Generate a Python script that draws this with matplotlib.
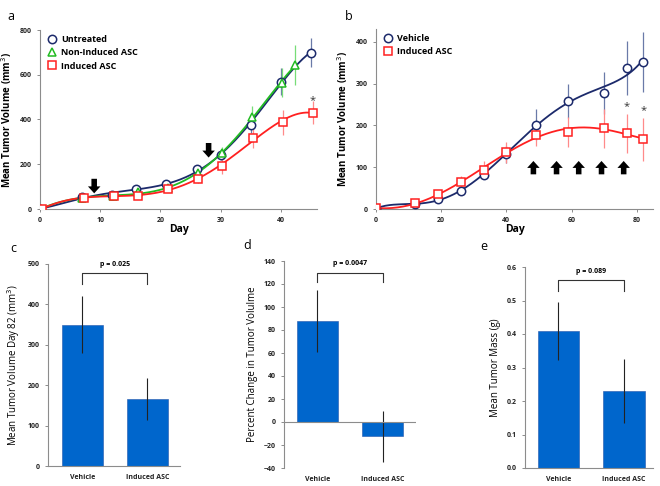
import numpy as np
import matplotlib
matplotlib.use("Agg")
from matplotlib import pyplot as plt, rcParams as rcP
from matplotlib.patches import FancyArrowPatch, ArrowStyle

rcP["font.family"] = ["Open Sans", "DejaVu Sans"]
rcP["axes.linewidth"] = 0.8

# ---- данные панели a ----
a_days_unt = [0, 7, 12, 16, 21, 26, 30, 35, 40, 45]
a_unt = [0, 55, 63, 88, 113, 177, 240, 376, 569, 699]
a_unt_err = [0, 6, 8, 10, 12, 15, 20, 35, 60, 65]

a_days_non = [0, 7, 12.2, 16.2, 21.2, 26.2, 30.2, 35.2, 40.2, 42.3]
a_non = [0, 50, 58, 75, 92, 160, 252, 410, 565, 644]
a_non_err = [0, 5, 8, 8, 10, 15, 25, 50, 65, 88]

a_days_ind = [0.3, 7.3, 12.3, 16.3, 21.3, 26.3, 30.3, 35.3, 40.3, 45.3]
a_ind = [0, 49, 60, 60, 88, 136, 192, 319, 388, 431]
a_ind_err = [0, 5, 6, 8, 10, 18, 35, 48, 56, 53]

a_arrows = [9, 28]

# ---- данные панели b ----
b_days = [0, 12, 19, 26, 33, 40, 49, 59, 70, 77, 82]
b_veh = [1, 12, 23, 43, 82, 131, 202, 259, 277, 338, 352]
b_veh_err = [0, 5, 6, 8, 10, 20, 37, 40, 50, 65, 71]
b_ind = [2, 14, 35, 64, 94, 136, 178, 184, 193, 181, 167]
b_ind_err = [0, 5, 8, 15, 22, 25, 28, 36, 47, 47, 52]
b_arrows = [48.3, 55.4, 62.2, 69.2, 76]

# ---- данные панелей c, d, e ----
groups = ["Vehicle", "Induced ASC"]
c_vals = [350, 165]
c_err = [71, 52]
d_vals = [88, -12.5]
d_err = [27, 22]
e_vals = [0.41, 0.23]
e_err = [0.087, 0.096]

NAVY = "#1c2a6b"
GREEN = "#22bb22"
RED = "#ff2020"
NAVY_E = "#6a7aa8"
GREEN_E = "#77dd77"
RED_E = "#ff8a8a"
BAR = "#0066cc"
SPINE = "#8c8c8c"

fig = plt.figure(figsize=(6.6, 4.86), dpi=100)


def px(l, t, r, b):
    # перевод пикселей в доли фигуры
    return [l / 660, 1 - b / 486, (r - l) / 660, (b - t) / 486]


def style(ax):
    for s in ["top", "right"]:
        ax.spines[s].set_visible(False)
    for s in ["left", "bottom"]:
        ax.spines[s].set_color(SPINE)
    ax.tick_params(colors=SPINE, length=2.5, width=0.7, labelsize=5)
    for lab in ax.get_xticklabels() + ax.get_yticklabels():
        lab.set_fontweight("bold")
        lab.set_color("#222222")


def trend(ax, x, y, deg, color):
    p = np.polyfit(x, y, deg)
    xx = np.linspace(min(x), max(x), 200)
    ax.plot(xx, np.polyval(p, xx), color=color, lw=1.3, zorder=2)


def series(ax, x, y, err, marker, color, ecolor, label, deg):
    ax.errorbar(x, y, yerr=err, fmt="none", ecolor=ecolor, elinewidth=0.9, zorder=1)
    trend(ax, x, y, deg, color)
    ax.plot(x, y, ls="none", marker=marker, ms=6, mfc="white", mec=color, mew=1.1,
            label=label, zorder=3)


def arrow(ax, x, y0, y1):
    st = ArrowStyle.Simple(head_length=5, head_width=9, tail_width=4)
    ax.add_patch(FancyArrowPatch((x, y0), (x, y1), arrowstyle=st, mutation_scale=1,
                                 color="black", lw=0, shrinkA=0, shrinkB=0, zorder=4))


# ---- панель a ----
ax = fig.add_axes(px(40, 30, 317, 209))
series(ax, a_days_unt, a_unt, a_unt_err, "o", NAVY, NAVY_E, "Untreated", 5)
series(ax, a_days_non, a_non, a_non_err, "^", GREEN, GREEN_E, "Non-Induced ASC", 5)
series(ax, a_days_ind, a_ind, a_ind_err, "s", RED, RED_E, "Induced ASC", 5)
for d in a_arrows:
    top = 135 if d < 20 else 295
    arrow(ax, d, top, top - 65)
ax.text(45.3, 485, "*", ha="center", va="center", fontsize=8, color="#333333")
ax.set_xlim(0, 46)
ax.set_ylim(0, 800)
ax.set_xticks([0, 10, 20, 30, 40])
ax.set_yticks([0, 200, 400, 600, 800])
ax.set_xlabel("Day", fontsize=7.5, fontweight="bold", labelpad=0)
ax.set_ylabel("Mean Tumor Volume (mm$^3$)", fontsize=7, fontweight="bold", labelpad=4)
style(ax)
ax.legend(loc="upper left", frameon=False, handletextpad=0.2, labelspacing=0.45,
          borderaxespad=0.2, handlelength=1.5, prop=dict(weight="bold", size=6.5))
fig.text(7 / 660, 1 - 17 / 486, "a", fontsize=9, va="center")

# ---- панель b ----
ax = fig.add_axes(px(376, 29, 653, 209))
series(ax, b_days, b_veh, b_veh_err, "o", NAVY, NAVY_E, "Vehicle", 5)
series(ax, b_days, b_ind, b_ind_err, "s", RED, RED_E, "Induced ASC", 5)
for d in b_arrows:
    arrow(ax, d, 83, 115)
ax.text(77, 245, "*", ha="center", va="center", fontsize=8, color="#333333")
ax.text(82, 235, "*", ha="center", va="center", fontsize=8, color="#333333")
ax.set_xlim(0, 85)
ax.set_ylim(0, 431)
ax.set_xticks([0, 20, 40, 60, 80])
ax.set_yticks([0, 100, 200, 300, 400])
ax.set_xlabel("Day", fontsize=7.5, fontweight="bold", labelpad=0)
ax.set_ylabel("Mean Tumor Volume (mm$^3$)", fontsize=7, fontweight="bold", labelpad=4)
style(ax)
ax.legend(loc="upper left", frameon=False, handletextpad=0.2, labelspacing=0.45,
          borderaxespad=0.2, handlelength=1.5, prop=dict(weight="bold", size=6.5))
fig.text(345 / 660, 1 - 17 / 486, "b", fontsize=9, va="center")


# ---- столбчатые панели ----
def bars(rect, vals, err, ylim, yticks, ylabel, ptxt, by, barm, label, lpos, xlim):
    ax = fig.add_axes(px(*rect))
    x = np.arange(len(groups))
    ax.bar(x, vals, width=0.63, color=BAR, edgecolor="#2255aa", lw=0.4, zorder=1)
    ax.errorbar(x, vals, yerr=err, fmt="none", ecolor="#222222", elinewidth=0.8, zorder=2)
    ax.plot([0, 0, 1, 1], [barm, by, by, barm], color="#333333", lw=0.8)
    ax.text(0.5, by + (ylim[1] - ylim[0]) * 0.025, ptxt, ha="center", va="bottom",
            fontsize=5, fontweight="bold")
    ax.set_xlim(*xlim)
    ax.set_ylim(*ylim)
    ax.set_yticks(yticks)
    ax.set_xticks(x)
    ax.set_xticklabels(groups)
    ax.set_ylabel(ylabel, fontsize=7, labelpad=4)
    style(ax)
    ax.tick_params(axis="x", length=0, pad=6)
    if ylim[0] < 0:
        ax.spines["bottom"].set_visible(False)
        ax.axhline(0, color=SPINE, lw=0.8)
    fig.text(lpos[0] / 660, 1 - lpos[1] / 486, label, fontsize=9, va="center")


bars((48, 264, 180, 466), c_vals, c_err, (0, 500), range(0, 501, 100),
     "Mean Tumor Volume Day 82 (mm$^3$)", "p = 0.025", 478, 451, "c", (10, 248), (-0.53, 1.5))
bars((284, 261, 416, 468), d_vals, d_err, (-40, 140), range(-40, 141, 20),
     "Percent Change in Tumor Volulme", "p = 0.0047", 130, 122, "d", (243, 245), (-0.515, 1.515))
bars((525, 267, 653, 468), e_vals, e_err, (0, 0.6), [0, 0.1, 0.2, 0.3, 0.4, 0.5, 0.6],
     "Mean Tumor Mass (g)", "p = 0.089", 0.56, 0.529, "e", (480, 247), (-0.51, 1.44))

plt.savefig("out.png", dpi=100)
